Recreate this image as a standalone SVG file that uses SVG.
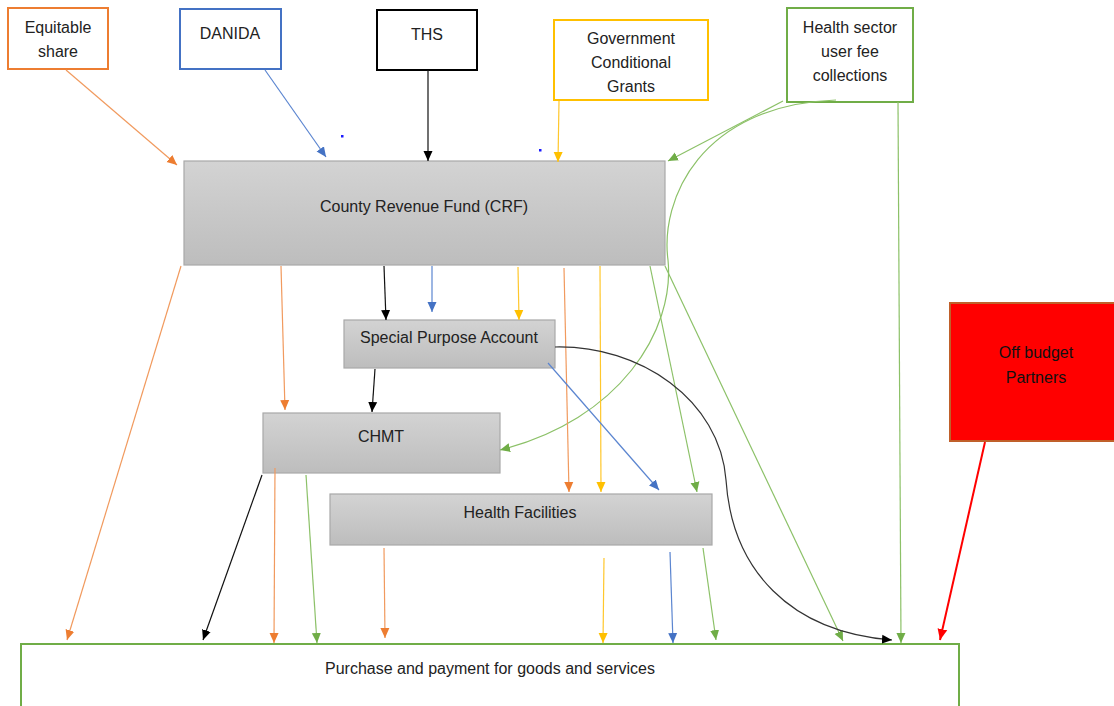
<svg xmlns="http://www.w3.org/2000/svg" width="1114" height="706" viewBox="0 0 1114 706">
  <defs>
    <linearGradient id="grayFill" x1="0" y1="0" x2="0" y2="1">
      <stop offset="0" stop-color="#d3d3d3"/>
      <stop offset="1" stop-color="#bdbdbd"/>
    </linearGradient>
    <marker id="ahOrange" viewBox="0 0 10 10" refX="10" refY="5" markerWidth="10" markerHeight="10" markerUnits="userSpaceOnUse" orient="auto"><path d="M0,0.5 L10,5 L0,9.5 Z" fill="#ED7D31"/></marker>
    <marker id="ahBlue" viewBox="0 0 10 10" refX="10" refY="5" markerWidth="10" markerHeight="10" markerUnits="userSpaceOnUse" orient="auto"><path d="M0,0.5 L10,5 L0,9.5 Z" fill="#4472C4"/></marker>
    <marker id="ahBlack" viewBox="0 0 10 10" refX="10" refY="5" markerWidth="10" markerHeight="10" markerUnits="userSpaceOnUse" orient="auto"><path d="M0,0.5 L10,5 L0,9.5 Z" fill="#000"/></marker>
    <marker id="ahGold" viewBox="0 0 10 10" refX="10" refY="5" markerWidth="10" markerHeight="10" markerUnits="userSpaceOnUse" orient="auto"><path d="M0,0.5 L10,5 L0,9.5 Z" fill="#FFC000"/></marker>
    <marker id="ahGreen" viewBox="0 0 10 10" refX="10" refY="5" markerWidth="10" markerHeight="10" markerUnits="userSpaceOnUse" orient="auto"><path d="M0,0.5 L10,5 L0,9.5 Z" fill="#70AD47"/></marker>
    <marker id="ahRed" viewBox="0 0 10 10" refX="10" refY="5" markerWidth="11" markerHeight="11" markerUnits="userSpaceOnUse" orient="auto"><path d="M0,0.5 L10,5 L0,9.5 Z" fill="#FF0000"/></marker>
  </defs>
  <style>
    text { font-family: "Liberation Sans", Arial, sans-serif; font-size: 16px; fill: #222; text-anchor: middle; }
    .src { fill: #fff; stroke-width: 2; }
    .gray { fill: url(#grayFill); stroke: #a8a8a8; stroke-width: 1.2; }
    .c { fill: none; stroke-width: 1.2; }
    .or { stroke: #F19A5E; marker-end: url(#ahOrange); }
    .bl { stroke: #5B85D0; marker-end: url(#ahBlue); }
    .bk { stroke: #111; marker-end: url(#ahBlack); }
    .gd { stroke: #FFC72C; marker-end: url(#ahGold); }
    .gr { stroke: #8CC168; marker-end: url(#ahGreen); }
    .rd { stroke: #FF0000; stroke-width: 2; marker-end: url(#ahRed); }
  </style>
  <rect width="1114" height="706" fill="#fff"/>

  <!-- funding sources -->
  <g id="equitable-share">
    <rect class="src" x="8" y="8" width="100" height="61" stroke="#ED7D31"/>
    <text x="58" y="33">Equitable</text>
    <text x="58" y="57">share</text>
  </g>
  <g id="danida">
    <rect class="src" x="180" y="9" width="101" height="60" stroke="#4472C4"/>
    <text x="230" y="39">DANIDA</text>
  </g>
  <g id="ths">
    <rect class="src" x="377" y="10" width="100" height="60" stroke="#000"/>
    <text x="427" y="40">THS</text>
  </g>
  <g id="conditional-grants">
    <rect class="src" x="554" y="20" width="154" height="80" stroke="#FFC000"/>
    <text x="631" y="44">Government</text>
    <text x="631" y="68">Conditional</text>
    <text x="631" y="92">Grants</text>
  </g>
  <g id="user-fees">
    <rect class="src" x="787" y="8" width="126" height="94" stroke="#70AD47"/>
    <text x="850" y="33">Health sector</text>
    <text x="850" y="57">user fee</text>
    <text x="850" y="81">collections</text>
  </g>

  <!-- accounts and spending units -->
  <g id="crf">
    <rect class="gray" x="184" y="161" width="481" height="104"/>
    <text x="424" y="212">County Revenue Fund (CRF)</text>
  </g>
  <g id="spa">
    <rect class="gray" x="344" y="320" width="211" height="48"/>
    <text x="449" y="343">Special Purpose Account</text>
  </g>
  <g id="chmt">
    <rect class="gray" x="263" y="413" width="237" height="60"/>
    <text x="381" y="442">CHMT</text>
  </g>
  <g id="health-facilities">
    <rect class="gray" x="330" y="494" width="382" height="51"/>
    <text x="520" y="518">Health Facilities</text>
  </g>
  <g id="off-budget">
    <rect x="950" y="303" width="170" height="138" fill="#FF0000" stroke="#C0602A" stroke-width="2"/>
    <text x="1036" y="358" style="fill:#111">Off budget</text>
    <text x="1036" y="383" style="fill:#111">Partners</text>
  </g>
  <g id="purchase">
    <rect x="21" y="644" width="938" height="80" fill="#fff" stroke="#70AD47" stroke-width="2"/>
    <text x="490" y="674">Purchase and payment for goods and services</text>
  </g>

  <!-- stray blue dots -->
  <g id="dots" fill="#1a1aff">
    <rect x="341" y="135" width="2.5" height="2.5"/>
    <rect x="539" y="149" width="2.5" height="2.5"/>
  </g>

  <g id="connectors">
    <!-- into the County Revenue Fund -->
    <line class="c or" x1="66" y1="70" x2="177" y2="165"/>
    <line class="c bl" x1="265" y1="70" x2="326" y2="157"/>
    <line class="c bk" x1="428" y1="70" x2="428" y2="161"/>
    <line class="c gd" x1="559" y1="101" x2="558" y2="162"/>
    <line class="c gr" x1="783" y1="101" x2="668" y2="161"/>

    <!-- user fees: curve to CHMT and direct line to purchases -->
    <path class="c gr" d="M836,100 C700,105 660,200 668,260 C675,330 620,420 500,450"/>
    <line class="c gr" x1="898" y1="102" x2="901" y2="643"/>

    <!-- out of the County Revenue Fund -->
    <line class="c or" x1="181" y1="266" x2="67" y2="640"/>
    <line class="c or" x1="281" y1="266" x2="285" y2="410"/>
    <line class="c bk" x1="384" y1="266" x2="386" y2="320"/>
    <line class="c bl" x1="432" y1="266" x2="432" y2="312"/>
    <line class="c gd" x1="518" y1="267" x2="519" y2="320"/>
    <line class="c or" x1="564" y1="268" x2="569" y2="492"/>
    <line class="c gd" x1="600" y1="266" x2="601" y2="492"/>
    <line class="c gr" x1="650" y1="266" x2="697" y2="492"/>
    <line class="c gr" x1="665" y1="266" x2="843" y2="641"/>

    <!-- out of the Special Purpose Account -->
    <line class="c bk" x1="375" y1="369" x2="372" y2="412"/>
    <line class="c bl" x1="548" y1="363" x2="659" y2="490"/>
    <path class="c bk" style="stroke:#333" d="M555,347 C640,345 720,400 726,480 C732,570 790,632 892,640"/>

    <!-- out of CHMT -->
    <line class="c bk" x1="262" y1="475" x2="203" y2="640"/>
    <line class="c or" x1="275" y1="468" x2="274" y2="643"/>
    <line class="c gr" x1="306" y1="475" x2="317" y2="643"/>

    <!-- out of Health Facilities -->
    <line class="c or" x1="384" y1="548" x2="385" y2="638"/>
    <line class="c gd" x1="604" y1="558" x2="603" y2="643"/>
    <line class="c bl" x1="670" y1="552" x2="673" y2="643"/>
    <line class="c gr" x1="703" y1="548" x2="716" y2="640"/>

    <!-- off budget partners -->
    <line class="c rd" x1="985" y1="442" x2="940" y2="640"/>
  </g>
</svg>
